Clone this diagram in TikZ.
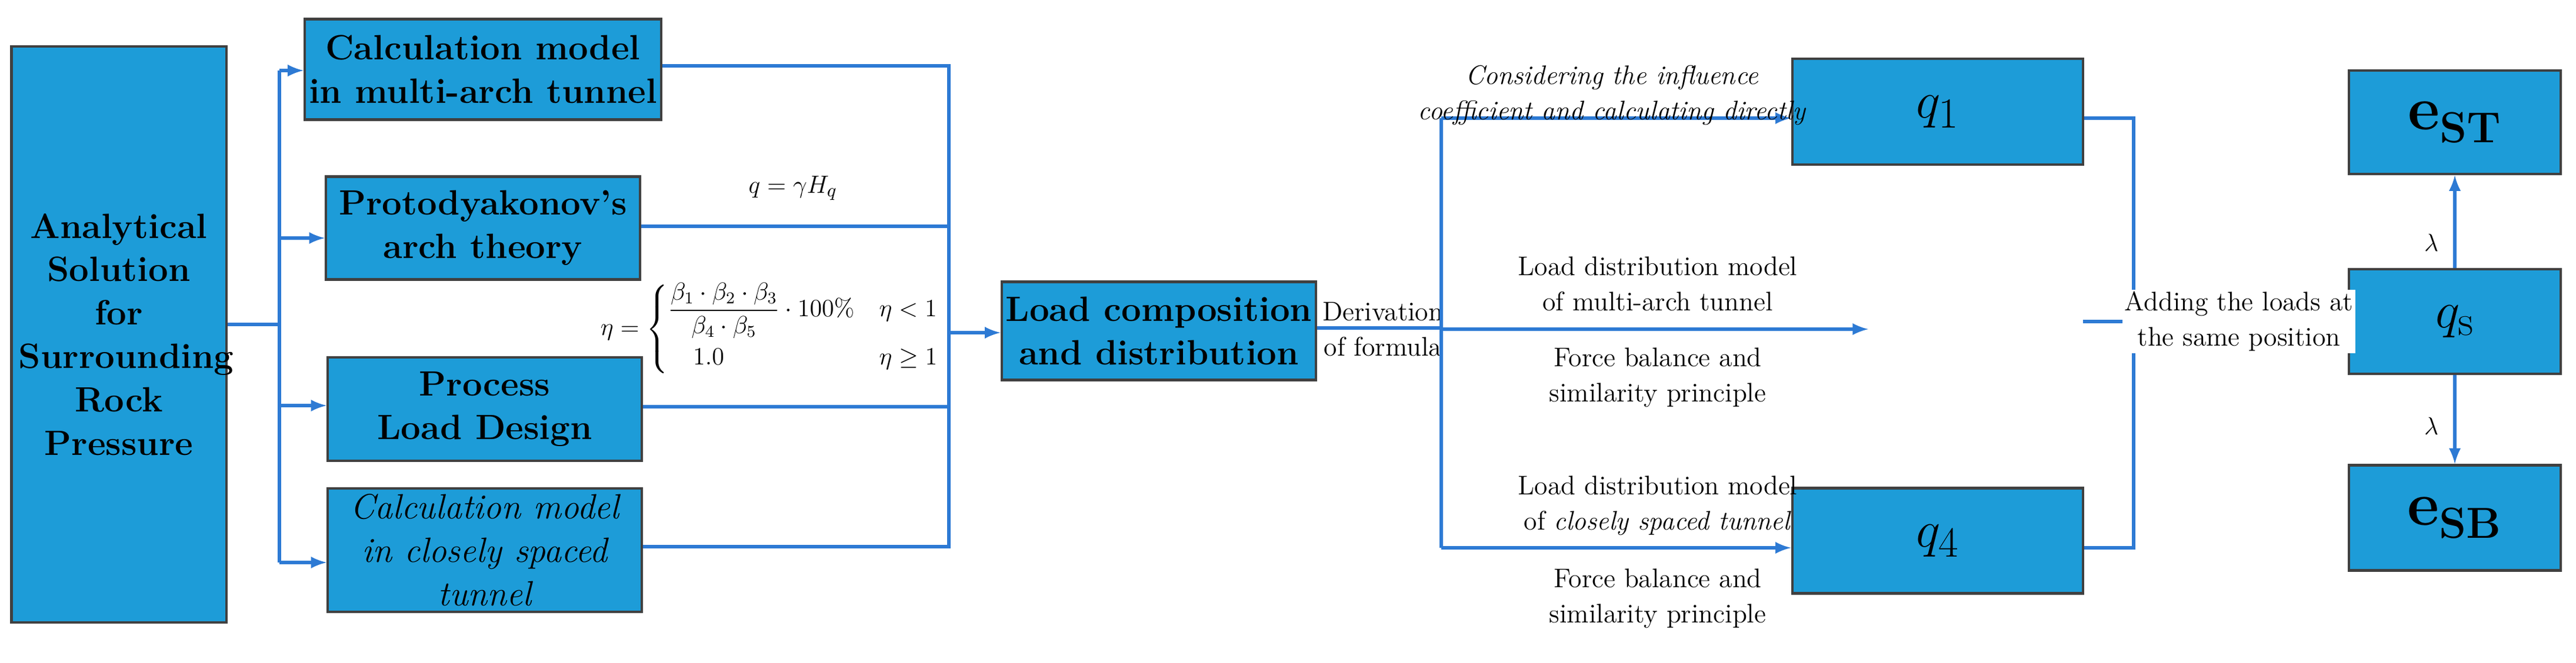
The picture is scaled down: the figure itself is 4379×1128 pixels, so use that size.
\documentclass[tikz,border=0pt]{standalone}
\usepackage{amsmath}
\usetikzlibrary{positioning}
\definecolor{boxblue}{RGB}{29,156,216}
\definecolor{lineblue}{RGB}{45,122,212}
\tikzset{
    blk/.style={draw=black!75,line width=1.2pt,fill=boxblue,align=center,font=\fontsize{17}{21}\selectfont\bfseries,inner sep=2pt},
    big/.style={font=\fontsize{30}{34}\selectfont},
    link/.style={lineblue,line width=1.6pt},
    arr/.style={link,-latex},
    lbl/.style={font=\fontsize{13}{17}\selectfont,align=center}
}
\begin{document}
\begin{tikzpicture}[x=0.01cm,y=-0.01cm]
        \useasboundingbox (0,0) rectangle (4379,1128);
        % 左侧: 解析解
        \node [blk,text width=3.4cm,minimum width=3.65cm,minimum height=9.8cm] (ASR) at (202,569)
            {Analytical\\Solution\\for\\Surrounding\\Rock\\Pressure};
        % 四种计算模型
        \node [blk,minimum width=5.33cm,minimum height=1.71cm] (M1) at (821,118) {Calculation model\\in multi-arch tunnel};
        \node [blk,minimum width=5.33cm,minimum height=1.75cm] (M2) at (821,388) {Protodyakonov's\\arch theory};
        \node [blk,minimum width=5.33cm,minimum height=1.76cm] (M3) at (824,696) {Process\\Load Design};
        \node [blk,minimum width=5.33cm,minimum height=2.10cm,font=\fontsize{17}{21}\selectfont\itshape] (M4) at (824,936) {Calculation model\\in closely spaced\\tunnel};
        % 汇总节点
        \node [blk,minimum width=5.30cm,minimum height=1.67cm] (LC) at (1970,563) {Load composition\\and distribution};
        \node [blk,big,minimum width=4.94cm,minimum height=1.80cm] (Q1) at (3294,190) {$q_1$};
        \node [blk,big,minimum width=4.94cm,minimum height=1.79cm] (Q4) at (3294,920) {$q_4$};
        \node [blk,big,minimum width=3.60cm,minimum height=1.78cm] (QS) at (4173,547) {$q_\mathrm{s}$};
        \node [blk,big,minimum width=3.60cm,minimum height=1.76cm] (EST) at (4173,208) {\textbf{e}$_{\textbf{ST}}$};
        \node [blk,big,minimum width=3.60cm,minimum height=1.79cm] (ESB) at (4173,881) {\textbf{e}$_{\textbf{SB}}$};
        % 分支线
        \coordinate (b1) at (475,552);
        \draw [link] (ASR.east |- b1) -- (b1);
        \draw [link] (475,120) -- (475,957);
        \draw [arr] (475,120) -- (M1.west |- 0,120);
        \draw [arr] (475,405) -- (M2.west |- 0,405);
        \draw [arr] (475,690) -- (M3.west |- 0,690);
        \draw [arr] (475,957) -- (M4.west |- 0,957);
        % 汇合线
        \coordinate (c1) at (1613,112);
        \coordinate (c4) at (1613,930);
        \draw [link] (M1.east |- c1) -- (c1) -- (c4) -- (M4.east |- c4);
        \draw [link] (M2.east |- 0,385) -- (1613,385);
        \draw [link] (M3.east |- 0,692) -- (1613,692);
        \draw [arr] (1613,566) -- (LC.west |- 0,566);
        \node [lbl] (fq) at (1348,320) {$q=\gamma H_q$};
        \node [lbl,anchor=east,font=\fontsize{12}{15}\selectfont] (feta) at (1610,560)
            {$\eta=\begin{cases}\dfrac{\beta_1\cdot\beta_2\cdot\beta_3}{\beta_4\cdot\beta_5}\cdot100\% & \eta<1\\[2pt] \quad 1.0 & \eta\geq1\end{cases}$};
        % 推导
        \coordinate (d1) at (2450,201);
        \coordinate (d4) at (2450,932);
        \draw [link] (LC.east |- 0,558) -- (2450,558);
        \node [lbl,anchor=west] (der) at (2236,560) {Derivation\\of formula};
        \draw [link] (d1) -- (d4);
        \draw [arr] (d1) -- (Q1.west |- d1);
        \draw [arr] (2450,560) -- (3176,560);
        \draw [arr] (d4) -- (Q4.west |- d4);
        \node [lbl,font=\fontsize{13}{17}\selectfont\itshape] (t1) at (2740,162) {Considering the influence\\coefficient and calculating directly};
        \node [lbl] (t2) at (2818,483) {Load distribution model\\of multi-arch tunnel};
        \node [lbl] (t3) at (2818,642) {Force balance and\\similarity principle};
        \node [lbl] (t4) at (2818,860) {Load distribution model\\of \textit{closely spaced tunnel}};
        \node [lbl] (t5) at (2818,1018) {Force balance and\\similarity principle};
        % 叠加
        \coordinate (e1) at (3627,201);
        \coordinate (e4) at (3627,932);
        \draw [link] (Q1.east |- e1) -- (e1) -- (e4) -- (Q4.east |- e4);
        \draw [arr] (3541,547) -- (QS.west |- 0,547);
        \node [lbl,fill=white,inner sep=1pt] (add) at (3806,547) {Adding the loads at\\the same position};
        \draw [arr] (QS.north) -- (EST.south);
        \draw [arr] (QS.south) -- (ESB.north);
        \node [lbl,font=\fontsize{12}{14}\selectfont] (l1) at (4133,413) {$\lambda$};
        \node [lbl,font=\fontsize{12}{14}\selectfont] (l2) at (4133,725) {$\lambda$};
\end{tikzpicture}
\end{document}
